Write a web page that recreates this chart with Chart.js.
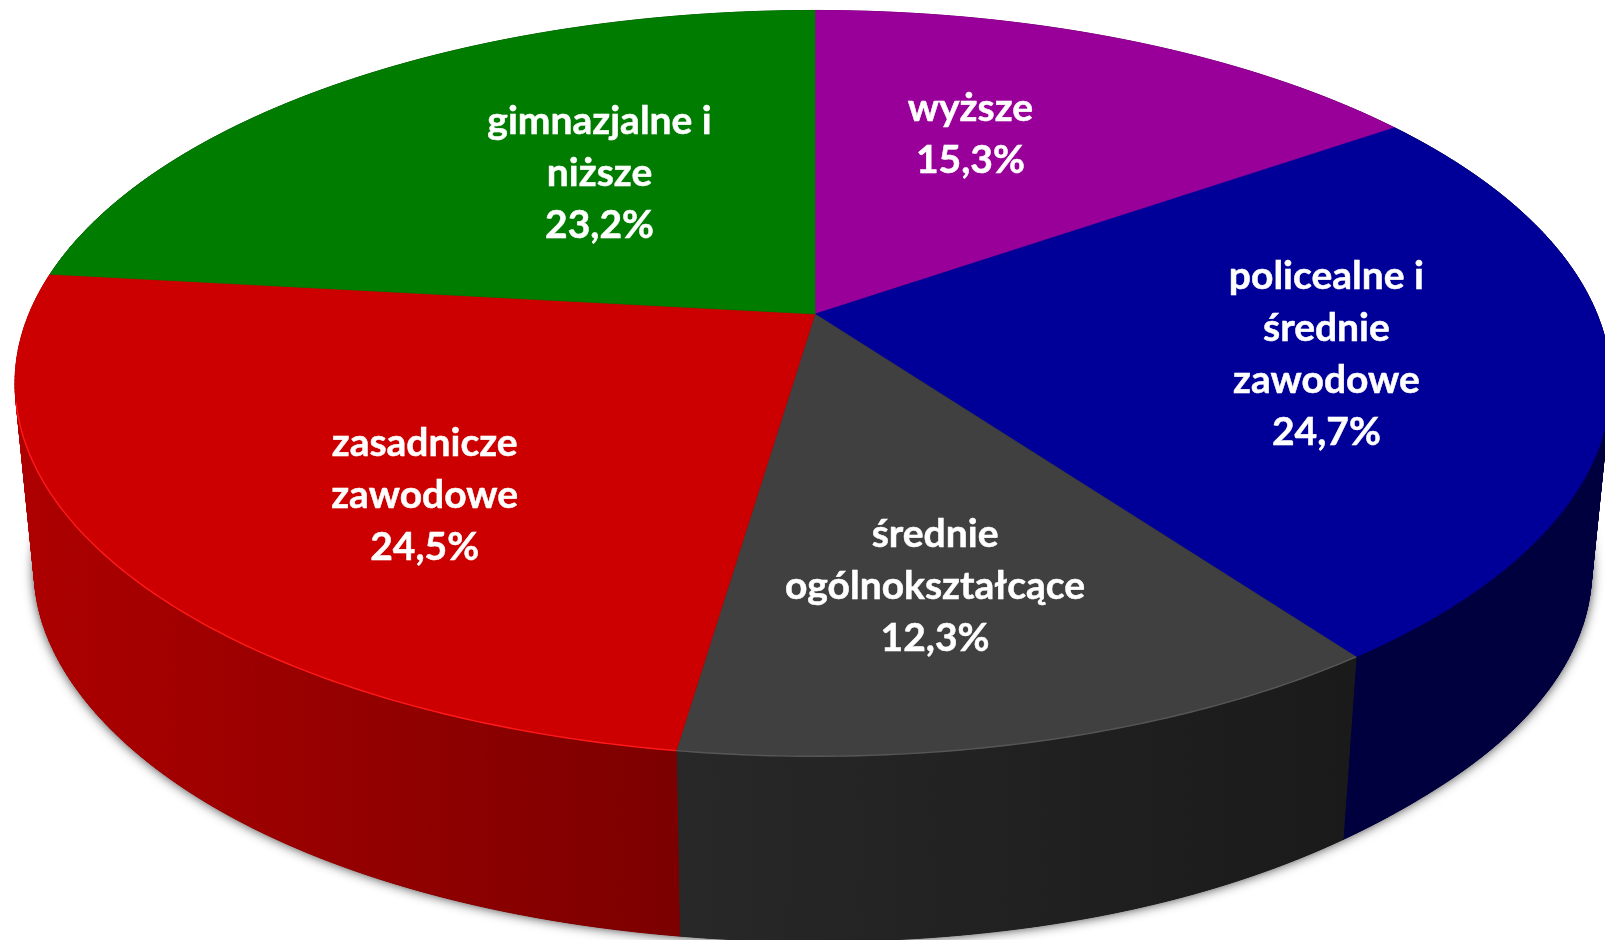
<!DOCTYPE html>
<html lang="pl">
<head>
<meta charset="utf-8">
<title>Wykształcenie</title>
<script src="https://cdn.jsdelivr.net/npm/chart.js@4"></script>
<style>html,body{margin:0;padding:0;background:#fff;overflow:hidden}canvas{display:block}</style>
</head>
<body>
<canvas id="c" width="1605" height="940"></canvas>
<script>
const categories = ["wyższe", "policealne i średnie zawodowe", "średnie ogólnokształcące", "zasadnicze zawodowe", "gimnazjalne i niższe"];
const labelLines = [["wyższe"], ["policealne i", "średnie", "zawodowe"], ["średnie", "ogólnokształcące"], ["zasadnicze", "zawodowe"], ["gimnazjalne i", "niższe"]];
const shares = [15.3, 24.7, 12.3, 24.5, 23.2];
const valueTexts = ["15,3%", "24,7%", "12,3%", "24,5%", "23,2%"];
const topColors = ["#990099", "#000099", "#404040", "#cc0000", "#007d00"];
const wallColorsStart = ["#66006a", "#00003f", "#282828", "#ae0000", "#005000"];
const wallColorsEnd = ["#66006a", "#00003f", "#1a1a1a", "#7c0000", "#005000"];
const rimColors = [null, null, "#565656", "#ff1a1a", null];

const view = {cx: 815, cy: 314, aRight: 782, aLeft: 786, b: 360, k: -0.186, pivotX: 812, wallScale: 0.976, wallShift: 196};
const labelOffsets = [[-42, -5.5], [40, 4], [-6, 37], [10.5, 39.5], [74.5, 8]];
const labelRadius = 0.6, lineHeight = 52;
const labelFont = 'bold 39px Lato, "Open Sans", sans-serif';

function project(angle, r) {
  const u = Math.cos(angle) * r, v = Math.sin(angle) * r;
  const d = 1 + view.k * v;
  return [view.cx + (u < 0 ? view.aLeft : view.aRight) * u / d, view.cy + view.b * v / d];
}
function smooth(t) { t = Math.min(1, Math.max(0, t)); return t * t * (3 - 2 * t); }
function lower(p) {
  const sag = 7.5 * smooth((p[1] - (p[0] < view.pivotX ? 450 : 600)) / (p[0] < view.pivotX ? 300 : 150));
  return [view.pivotX + view.wallScale * (p[0] - view.pivotX), view.wallScale * p[1] + view.wallShift + sag];
}
function arcPoints(a0, a1) {
  const n = Math.max(2, Math.ceil((a1 - a0) / 0.01));
  const pts = [];
  for (let i = 0; i <= n; i++) pts.push(project(a0 + (a1 - a0) * i / n, 1));
  return pts;
}
function trace(ctx, pts) {
  pts.forEach((p, i) => i ? ctx.lineTo(p[0], p[1]) : ctx.moveTo(p[0], p[1]));
}

const pie3d = {
  id: "pie3d",
  beforeDatasetDraw(chart) {
    const ctx = chart.ctx, arcs = chart.getDatasetMeta(0).data;
    ctx.save();
    // soft shadow around the lower rim
    const ring = arcPoints(0, Math.PI * 2).map(lower);
    ctx.save();
    ctx.shadowColor = "rgba(0,0,0,0.8)";
    ctx.shadowBlur = 12;
    ctx.fillStyle = "#000";
    ctx.beginPath(); trace(ctx, ring); ctx.closePath(); ctx.fill();
    ctx.restore();
    // side walls
    arcs.forEach((el, i) => {
      const pts = arcPoints(el.startAngle, el.endAngle);
      const low = pts.map(lower);
      const xs = pts.concat(low).map(p => p[0]);
      const g = ctx.createLinearGradient(Math.min(...xs), 0, Math.max(...xs), 0);
      g.addColorStop(0, wallColorsStart[i]);
      g.addColorStop(1, wallColorsEnd[i]);
      ctx.fillStyle = g; ctx.strokeStyle = g; ctx.lineWidth = 1;
      for (let j = 0; j < pts.length - 1; j++) {
        ctx.beginPath();
        ctx.moveTo(pts[j][0], pts[j][1]); ctx.lineTo(pts[j + 1][0], pts[j + 1][1]);
        ctx.lineTo(low[j + 1][0], low[j + 1][1]); ctx.lineTo(low[j][0], low[j][1]);
        ctx.closePath(); ctx.fill(); ctx.stroke();
      }
    });
    // top faces
    arcs.forEach((el, i) => {
      const pts = arcPoints(el.startAngle, el.endAngle);
      ctx.fillStyle = topColors[i]; ctx.strokeStyle = topColors[i]; ctx.lineWidth = 0.6;
      ctx.beginPath(); ctx.moveTo(view.cx, view.cy);
      pts.forEach(p => ctx.lineTo(p[0], p[1]));
      ctx.closePath(); ctx.fill(); ctx.stroke();
    });
    arcs.forEach((el, i) => {
      if (!rimColors[i]) return;
      const pts = arcPoints(el.startAngle, el.endAngle).filter(p => p[1] > 400);
      ctx.strokeStyle = rimColors[i]; ctx.lineWidth = 1.4;
      ctx.beginPath(); trace(ctx, pts); ctx.stroke();
    });
    // labels
    ctx.fillStyle = "#fff"; ctx.strokeStyle = "#fff"; ctx.lineWidth = 0.5;
    ctx.font = labelFont; ctx.textAlign = "center"; ctx.textBaseline = "middle";
    arcs.forEach((el, i) => {
      const mid = (el.startAngle + el.endAngle) / 2;
      const p = project(mid, labelRadius);
      const lines = labelLines[i].concat(valueTexts[i]);
      const x = p[0] + labelOffsets[i][0];
      const y = p[1] + labelOffsets[i][1] - (lines.length - 1) * lineHeight / 2;
      lines.forEach((t, j) => { ctx.fillText(t, x, y + j * lineHeight); ctx.strokeText(t, x, y + j * lineHeight); });
    });
    ctx.restore();
    return false;
  }
};

new Chart(document.getElementById("c"), {
  type: "pie",
  data: {labels: categories, datasets: [{data: shares, backgroundColor: topColors, borderWidth: 0}]},
  options: {
    responsive: false, animation: false, rotation: 0,
    plugins: {legend: {display: false}, tooltip: {enabled: false}}
  },
  plugins: [pie3d]
});
</script>
</body>
</html>
